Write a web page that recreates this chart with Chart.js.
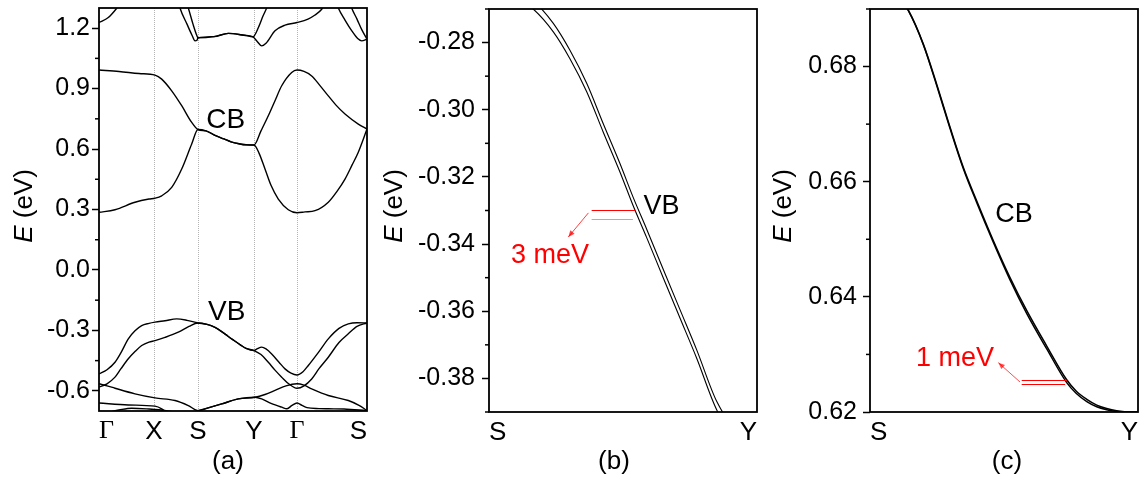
<!DOCTYPE html>
<html>
<head>
<meta charset="utf-8">
<script src="https://cdn.jsdelivr.net/npm/chart.js@4.4.0/dist/chart.umd.min.js"></script>
<style>
  html, body { margin: 0; padding: 0; background: #fff; }
  body { width: 1140px; height: 487px; position: relative; overflow: hidden; }
  .panel { position: absolute; top: 0; height: 487px; }
</style>
</head>
<body>
<div class="panel" style="left:0;width:380px"><canvas id="chart-a"></canvas></div>
<div class="panel" style="left:380px;width:385px"><canvas id="chart-b"></canvas></div>
<div class="panel" style="left:765px;width:375px"><canvas id="chart-c"></canvas></div>
<script>
// ---- panel (a): full band structure along the path, [k, E(eV)] ----
const kPoints = [0, 55, 99, 155, 198, 268];
const kLabels = ['Γ', 'X', 'S', 'Y', 'Γ', 'S'];
const eTicksA = [-0.6, -0.3, 0, 0.3, 0.6, 0.9, 1.2];
const eMinorA = [-0.45, -0.15, 0.15, 0.45, 0.75, 1.05];

const cbUpper = [[0,0.992],[20,0.985],[40,0.975],[56,0.967],[62.7,0.947],[72.7,0.889],[82.7,0.815],[92.7,0.732],[99,0.697],
  [107,0.690],[116,0.668],[125,0.650],[132,0.636],[140,0.626],[147,0.621],[155,0.620],
  [162,0.69],[169.3,0.765],[176,0.84],[182.7,0.914],[192.7,0.980],[198,0.992],
  [205,0.985],[212.7,0.963],[221,0.915],[229.3,0.864],[237,0.818],[246,0.774],[259.3,0.724],[268,0.699]];
const cbLower = [[0,0.286],[16,0.299],[36,0.336],[50,0.352],[56,0.356],[62.7,0.368],[72.7,0.410],[82.7,0.501],[92.7,0.625],[99,0.697],
  [107,0.690],[116,0.668],[125,0.650],[132,0.636],[140,0.626],[147,0.621],[155,0.620],
  [160,0.58],[166,0.501],[172,0.42],[179.3,0.352],[189.3,0.299],[198,0.284],
  [206,0.288],[216,0.294],[229.3,0.336],[238,0.39],[246,0.451],[253,0.52],[259.3,0.584],[268,0.699]];
const vb1 = [[0,-0.516],[8,-0.495],[16,-0.458],[22,-0.41],[29.3,-0.342],[36,-0.302],[42.7,-0.276],[50,-0.265],[56,-0.259],[66,-0.252],[77.7,-0.243],[88,-0.25],[99,-0.263],
  [108,-0.270],[116,-0.285],[123,-0.307],[129,-0.329],[135,-0.350],[142,-0.374],[147,-0.389],[155,-0.400],
  [158,-0.392],[162.7,-0.383],[167,-0.392],[172.7,-0.417],[180,-0.458],[186,-0.491],[192,-0.512],[198,-0.521],
  [204,-0.505],[209.3,-0.474],[220,-0.405],[229.3,-0.342],[240,-0.29],[249.3,-0.268],[258,-0.262],[268,-0.263]];
const vb2 = [[0,-0.582],[8,-0.565],[16,-0.532],[22,-0.49],[29.3,-0.441],[36,-0.405],[42.7,-0.375],[50,-0.358],[56,-0.351],[66,-0.335],[79.3,-0.309],[90,-0.28],[99,-0.263],
  [108,-0.270],[116,-0.285],[123,-0.307],[129,-0.329],[135,-0.350],[142,-0.374],[147,-0.389],[155,-0.400],
  [162,-0.42],[169.3,-0.458],[176,-0.497],[182.7,-0.532],[190,-0.566],[198,-0.587],
  [205,-0.575],[212.7,-0.541],[220,-0.49],[229.3,-0.433],[240,-0.36],[249.3,-0.317],[258,-0.28],[268,-0.263]];
const vb3 = [[0,-0.565],[8,-0.575],[16,-0.587],[36,-0.615],[56,-0.635],[76,-0.648],[89.3,-0.673],[99,-0.698],
  [110,-0.683],[122.7,-0.665],[139.3,-0.640],[156,-0.632],
  [166,-0.618],[176,-0.598],[187,-0.575],[198,-0.565],
  [205,-0.572],[212.7,-0.590],[229.3,-0.623],[249.3,-0.648],[260,-0.672],[268,-0.698]];
const vb4 = [[99,-0.698],[110,-0.683],[122.7,-0.665],[139.3,-0.640],[156,-0.632],[162.7,-0.640],[172,-0.662],[182.7,-0.681],[188,-0.689],
  [193,-0.672],[198,-0.660],[203,-0.672],[208,-0.683],[220,-0.688],[229.3,-0.689],[245,-0.690],[268,-0.698]];
const vb5 = [[0,-0.660],[29.3,-0.670],[56,-0.676],[62.7,-0.689],[68,-0.71]];
const vb6 = [[10,-0.705],[20,-0.695],[32.7,-0.686],[50,-0.690],[60,-0.694],[75,-0.705]];
const hi1 = [[0,1.228],[9.3,1.253],[17.7,1.299],[22,1.33]];
const hi2 = [[78,1.36],[81,1.30],[88,1.22],[93,1.165],[96,1.137],[98,1.140],[99,1.152],[115,1.158],[129.3,1.174],[145,1.165],[154,1.157],
  [158,1.135],[162.7,1.112],[167,1.125],[176,1.187],[186,1.215],[198,1.228],[209,1.245],[216,1.265],[222.7,1.294],[227,1.33]];
const hi3 = [[85,1.36],[89.3,1.30],[94,1.22],[97.7,1.165],[99,1.152],[115,1.158],[129.3,1.174],[145,1.165],[154,1.157],[160,1.21],[164,1.26],[167.7,1.30],[170,1.33]];
const hi4 = [[235,1.36],[239.3,1.30],[246,1.24],[253,1.185],[259,1.147],[262.7,1.137],[268,1.145]];
const hi5 = [[249,1.36],[252.7,1.30],[258,1.245],[263,1.19],[267.7,1.148]];

// ---- panel (b): VB along S-Y, [fraction of S-Y, E(eV)] ----
const syTicks = [0, 1];
const syLabels = ['S', 'Y'];
const eTicksB = [-0.38, -0.36, -0.34, -0.32, -0.30, -0.28];
const eMinorB = [-0.39, -0.37, -0.35, -0.33, -0.31, -0.29, -0.27];
const vbLow = [[0,-0.2635],[0.08,-0.2655],[0.165,-0.2700],[0.240,-0.2768],[0.302,-0.2848],[0.365,-0.2947],[0.426,-0.3066],[0.489,-0.3186],
  [0.538,-0.3286],[0.588,-0.3380],[0.650,-0.3500],[0.713,-0.3621],[0.775,-0.3740],[0.850,-0.3894],[0.92,-0.3975],[1,-0.4005]];
const vbHigh = [[0,-0.2610],[0.08,-0.2630],[0.165,-0.2675],[0.240,-0.2743],[0.302,-0.2823],[0.365,-0.2922],[0.426,-0.3041],[0.489,-0.3161],
  [0.538,-0.3261],[0.588,-0.3355],[0.650,-0.3475],[0.713,-0.3596],[0.775,-0.3715],[0.850,-0.3869],[0.92,-0.3950],[1,-0.3980]];

// ---- panel (c): CB along S-Y ----
const eTicksC = [0.62, 0.64, 0.66, 0.68];
const eMinorC = [0.63, 0.65, 0.67, 0.69];
const cbHigh = [[0,0.6965],[0.07,0.6945],[0.143,0.6898],[0.199,0.6839],[0.249,0.6769],[0.299,0.6694],[0.348,0.6625],[0.398,0.6567],
  [0.460,0.6498],[0.522,0.6434],[0.585,0.6376],[0.659,0.6315],[0.734,0.6256],[0.77,0.6236],[0.809,0.6222],[0.846,0.6212],[0.883,0.6206],[0.92,0.6202],[0.958,0.6200],[1,0.6200]];
const cbLow = [[0,0.6964],[0.07,0.6944],[0.143,0.6897],[0.199,0.6838],[0.249,0.6767],[0.299,0.6692],[0.348,0.6623],[0.398,0.6564],
  [0.460,0.6495],[0.522,0.6430],[0.585,0.6371],[0.659,0.6310],[0.734,0.6251],[0.77,0.6232],[0.809,0.6218],[0.846,0.6209],[0.883,0.6204],[0.92,0.6201],[0.958,0.6200],[1,0.6200]];

const FONT = '"Liberation Sans", Arial, sans-serif';
const SERIF = '"Liberation Serif", "Times New Roman", serif';

function drawArrow(ctx, x1, y1, x2, y2, color) {
  const ang = Math.atan2(y2 - y1, x2 - x1);
  ctx.strokeStyle = color; ctx.fillStyle = color; ctx.lineWidth = 1;
  ctx.beginPath(); ctx.moveTo(x1, y1); ctx.lineTo(x2, y2); ctx.stroke();
  ctx.beginPath();
  ctx.moveTo(x2, y2);
  ctx.lineTo(x2 - 7 * Math.cos(ang - 0.4), y2 - 7 * Math.sin(ang - 0.4));
  ctx.lineTo(x2 - 7 * Math.cos(ang + 0.4), y2 - 7 * Math.sin(ang + 0.4));
  ctx.closePath(); ctx.fill();
}

function panel(id, cfg) {
  const decor = {
    id: 'decor',
    afterDatasetsDraw(chart) {
      const { ctx, chartArea: a, scales: { x, y } } = chart;
      ctx.save();
      // minor ticks on the energy axis
      ctx.strokeStyle = '#000'; ctx.lineWidth = 1.5;
      cfg.yMinor.forEach(v => {
        const py = y.getPixelForValue(v);
        ctx.beginPath(); ctx.moveTo(a.left - 4, py); ctx.lineTo(a.left, py); ctx.stroke();
      });
      // box
      ctx.lineWidth = 1.8;
      ctx.strokeRect(a.left, a.top, a.right - a.left, a.bottom - a.top);
      // red splitting markers
      (cfg.marks || []).forEach(m => {
        ctx.strokeStyle = m.color; ctx.lineWidth = 1;
        const py = Math.round(y.getPixelForValue(m.e)) + 0.5;
        ctx.beginPath(); ctx.moveTo(x.getPixelForValue(m.from), py); ctx.lineTo(x.getPixelForValue(m.to), py); ctx.stroke();
      });
      (cfg.arrows || []).forEach(r => {
        drawArrow(ctx, x.getPixelForValue(r[0]), y.getPixelForValue(r[1]), x.getPixelForValue(r[2]), y.getPixelForValue(r[3]), r[4]);
      });
      // notes
      ctx.textAlign = 'center'; ctx.textBaseline = 'middle';
      (cfg.notes || []).forEach(n => {
        ctx.fillStyle = n.color || '#000';
        ctx.font = (n.size || 27) + 'px ' + FONT;
        ctx.fillText(n.text, x.getPixelForValue(n.k), y.getPixelForValue(n.e));
      });
      // caption under the panel
      ctx.fillStyle = '#000';
      ctx.font = '26px ' + FONT;
      ctx.fillText(cfg.caption, cfg.captionX, 462);
      // E (eV) axis title, E in italics
      ctx.translate(cfg.titleX, 206);
      ctx.rotate(-Math.PI / 2);
      ctx.textAlign = 'left';
      ctx.font = 'italic 26px ' + FONT;
      const wE = ctx.measureText('E').width;
      ctx.font = '26px ' + FONT;
      const wR = ctx.measureText(' (eV)').width;
      const sx = -(wE + wR) / 2;
      ctx.font = 'italic 26px ' + FONT;
      ctx.fillText('E', sx, 0);
      ctx.font = '26px ' + FONT;
      ctx.fillText(' (eV)', sx + wE, 0);
      ctx.restore();
    }
  };

  return new Chart(document.getElementById(id), {
    type: 'scatter',
    data: {
      datasets: cfg.bands.map(b => ({
        data: b.map(p => ({ x: p[0], y: p[1] })),
        showLine: true,
        borderColor: '#000',
        borderWidth: cfg.lineWidth,
        pointRadius: 0,
        cubicInterpolationMode: 'monotone',
        fill: false
      }))
    },
    options: {
      responsive: true,
      maintainAspectRatio: false,
      animation: false,
      events: [],
      layout: { padding: { top: cfg.padTop, right: cfg.padRight, left: 0, bottom: 0 } },
      plugins: { legend: { display: false }, tooltip: { enabled: false } },
      scales: {
        x: {
          type: 'linear',
          min: cfg.xTicks[0],
          max: cfg.xTicks[cfg.xTicks.length - 1],
          afterBuildTicks: s => { s.ticks = cfg.xTicks.map(v => ({ value: v })); },
          afterFit: s => { s.height = cfg.axisHeight; s.paddingLeft = 0; s.paddingRight = 0; },
          ticks: {
            autoSkip: false,
            maxRotation: 0,
            align: 'inner',
            padding: 5,
            color: '#000',
            font: c => ({ family: cfg.xLabels[c.index] === 'Γ' ? SERIF : FONT, size: 26 }),
            callback: (v, i) => cfg.xLabels[i]
          },
          grid: {
            display: !!cfg.pathLines,
            drawTicks: false,
            lineWidth: 1,
            color: c => (c.index === 0 || c.index === cfg.xTicks.length - 1) ? 'rgba(0,0,0,0)' : '#b4b4b4'
          },
          border: { display: false, dash: [1, 1] }
        },
        y: {
          type: 'linear',
          min: cfg.yMin,
          max: cfg.yMax,
          afterBuildTicks: s => { s.ticks = cfg.yMajor.map(v => ({ value: v })); },
          afterFit: s => { s.width = cfg.axisWidth; s.paddingTop = 0; s.paddingBottom = 0; },
          ticks: {
            autoSkip: false,
            padding: cfg.tickPad,
            color: '#000',
            font: { family: FONT, size: 25 },
            callback: v => v.toFixed(cfg.decimals)
          },
          grid: { drawOnChartArea: false, drawTicks: true, tickLength: 7, tickColor: '#000', tickWidth: 1.5 },
          border: { display: false }
        }
      }
    },
    plugins: [decor]
  });
}

panel('chart-a', {
  bands: [hi1, hi2, hi3, hi4, hi5, cbUpper, cbLower, vb1, vb2, vb3, vb4, vb5, vb6],
  lineWidth: 1.4,
  xTicks: kPoints, xLabels: kLabels, pathLines: true,
  yMin: -0.7, yMax: 1.3, yMajor: eTicksA, yMinor: eMinorA, decimals: 1,
  axisWidth: 99, axisHeight: 76, padTop: 8, padRight: 13, tickPad: 2,
  titleX: 25, caption: '(a)', captionX: 228,
  notes: [{ text: 'CB', k: 126.8, e: 0.745, size: 28 }, { text: 'VB', k: 127.7, e: -0.210, size: 28 }]
});

panel('chart-b', {
  bands: [vbLow, vbHigh],
  lineWidth: 1.1,
  xTicks: syTicks, xLabels: syLabels,
  yMin: -0.39, yMax: -0.27, yMajor: eTicksB, yMinor: eMinorB, decimals: 2,
  axisWidth: 109, axisHeight: 75, padTop: 9, padRight: 8, tickPad: 7,
  titleX: 15, caption: '(b)', captionX: 234,
  notes: [{ text: 'VB', k: 0.644, e: -0.3289 }, { text: '3 meV', k: 0.228, e: -0.3433, color: '#ff0000' }],
  marks: [{ e: -0.3298, from: 0.383, to: 0.546, color: '#ff0000' }, { e: -0.3324, from: 0.383, to: 0.537, color: 'rgba(255,0,0,0.45)' }],
  arrows: [[0.371, -0.3307, 0.296, -0.3379, 'rgba(255,0,0,0.75)']]
});

panel('chart-c', {
  bands: [cbHigh, cbLow],
  lineWidth: 1.5,
  xTicks: syTicks, xLabels: syLabels,
  yMin: 0.62, yMax: 0.69, yMajor: eTicksC, yMinor: eMinorC, decimals: 2,
  axisWidth: 105, axisHeight: 75, padTop: 9, padRight: 2, tickPad: 6,
  titleX: 19, caption: '(c)', captionX: 242,
  notes: [{ text: 'CB', k: 0.537, e: 0.6543 }, { text: '1 meV', k: 0.317, e: 0.62931, color: '#ff0000' }],
  marks: [{ e: 0.62562, from: 0.566, to: 0.734, color: '#ff0000' }, { e: 0.62492, from: 0.566, to: 0.728, color: '#ff0000' }],
  arrows: [[0.560, 0.62520, 0.479, 0.62857, 'rgba(255,0,0,0.7)']]
});
</script>
</body>
</html>
